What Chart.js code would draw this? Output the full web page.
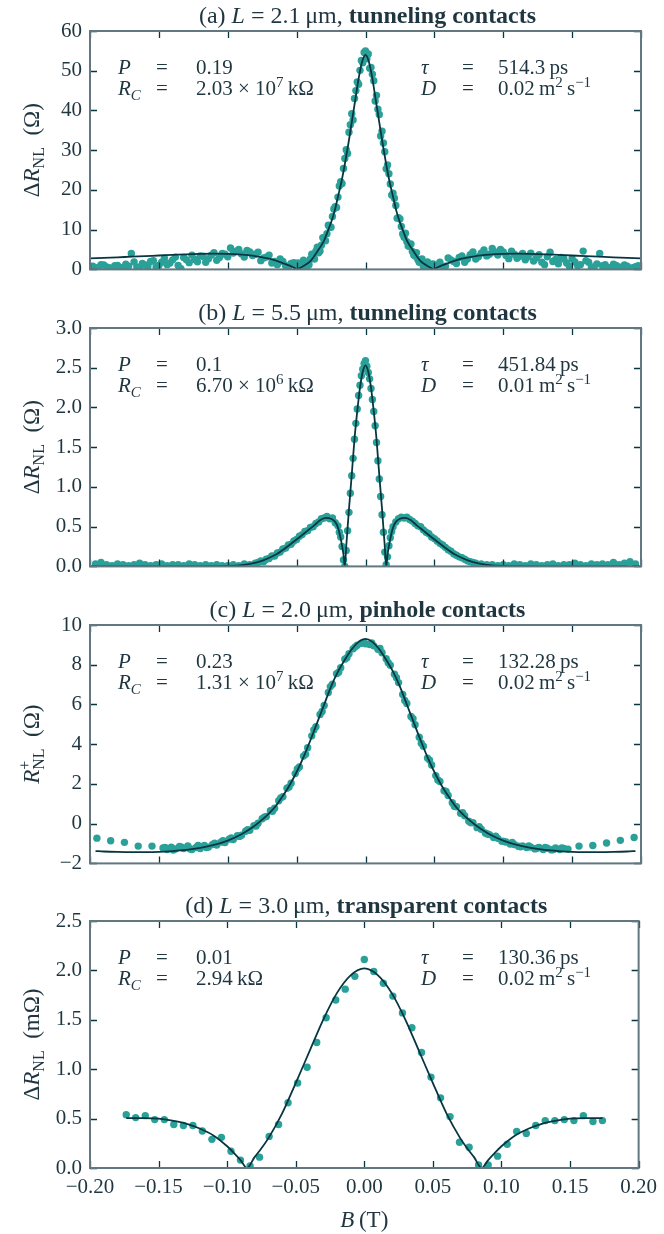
<!DOCTYPE html>
<html>
<head>
<meta charset="utf-8">
<script src="https://cdn.jsdelivr.net/npm/chart.js@4.4.0/dist/chart.umd.min.js"></script>
<style>
  body { margin: 0; background: #fff; width: 664px; height: 1234px; position: relative; overflow: hidden; }
  canvas { position: absolute; left: 0; }
</style>
</head>
<body>
<canvas id="panelA" width="664" height="290" style="top:0px"></canvas>
<canvas id="panelB" width="664" height="290" style="top:297px"></canvas>
<canvas id="panelC" width="664" height="290" style="top:594px"></canvas>
<canvas id="panelD" width="664" height="344" style="top:890px"></canvas>
<script>
// shared tick labels
const xTicks = [-0.2, -0.15, -0.1, -0.05, 0, 0.05, 0.1, 0.15, 0.2];
const aTicks = [0, 10, 20, 30, 40, 50, 60];
const bTicks = [0, 0.5, 1, 1.5, 2, 2.5, 3];
const cTicks = [-2, 0, 2, 4, 6, 8, 10];
const dTicks = [0, 0.5, 1, 1.5, 2, 2.5];

// (a) L = 2.1 um, tunneling -- first sweep
const aB = [
  -0.198,-0.194,-0.190,-0.186,-0.182,-0.178,-0.174,-0.170,-0.166,-0.162,
  -0.158,-0.154,-0.150,-0.146,-0.142,-0.138,-0.134,-0.130,-0.126,-0.122,
  -0.118,-0.114,-0.110,-0.106,-0.102,-0.098,-0.094,-0.090,-0.086,-0.082,
  -0.078,-0.074,-0.070,-0.066,-0.062,-0.058,-0.054,-0.050,
  -0.048,-0.046,-0.044,-0.042,-0.040,-0.038,-0.036,-0.034,-0.032,-0.030,
  -0.028,-0.026,-0.024,-0.022,-0.020,-0.018,-0.016,-0.014,-0.012,-0.010,
  -0.008,-0.006,-0.004,-0.002,0,0.002,0.004,0.006,0.008,0.010,
  0.012,0.014,0.016,0.018,0.020,0.022,0.024,0.026,0.028,0.030,
  0.032,0.034,0.036,0.038,0.040,0.042,0.044,0.046,0.048,
  0.050,0.054,0.058,0.062,0.066,0.070,0.074,0.078,0.082,0.086,
  0.090,0.094,0.098,0.102,0.106,0.110,0.114,0.118,0.122,0.126,
  0.130,0.134,0.138,0.142,0.146,0.150,0.154,0.158,0.162,0.166,
  0.170,0.174,0.178,0.182,0.186,0.190,0.194,0.198
];
const aR = [
  0.8,0.5,1.1,0.4,0.9,0.3,1.3,4.0,0.6,1.5,
  0.7,2.2,1.0,2.8,1.6,3.1,0.2,2.4,3.6,1.9,
  3.3,2.7,4.2,3.0,3.8,5.4,4.6,3.9,4.8,3.5,
  4.3,2.9,3.6,2.0,2.6,0.9,1.5,0.3,
  1.2,0.4,1.8,0.9,2.6,2.9,4.6,4.2,6.1,7.4,
  9.0,10.6,13.3,15.8,18.2,22.1,25.4,30.1,34.5,39.2,
  43.0,47.2,50.1,52.0,55.0,54.2,50.8,47.5,43.8,39.0,
  34.8,29.6,26.3,21.5,19.2,16.1,13.0,10.8,8.1,7.0,
  5.8,4.5,3.4,2.5,1.9,0.8,1.6,0.5,1.1,
  0.4,1.8,0.8,2.4,1.5,3.4,2.6,4.4,3.2,4.9,
  3.8,4.4,5.0,3.5,4.6,2.8,4.0,3.2,2.1,3.7,
  1.2,4.3,2.5,3.0,1.6,2.7,0.9,4.6,1.8,0.7,
  4.0,1.2,0.5,1.0,0.3,0.8,0.4,0.9
];
// (a) second sweep
const aB2 = [
  -0.196,-0.192,-0.188,-0.184,-0.180,-0.176,-0.172,-0.168,-0.164,-0.160,
  -0.156,-0.152,-0.148,-0.144,-0.140,-0.136,-0.132,-0.128,-0.124,-0.120,
  -0.116,-0.112,-0.108,-0.104,-0.100,-0.096,-0.092,-0.088,-0.084,-0.080,
  -0.076,-0.072,-0.068,-0.064,-0.060,-0.056,-0.052,
  -0.049,-0.047,-0.045,-0.043,-0.041,-0.039,-0.037,-0.035,-0.033,-0.031,
  -0.029,-0.027,-0.025,-0.023,-0.021,-0.019,-0.017,-0.015,-0.013,-0.011,
  -0.009,-0.007,-0.005,-0.003,-0.001,0.001,0.003,0.005,0.007,0.009,
  0.011,0.013,0.015,0.017,0.019,0.021,0.023,0.025,0.027,0.029,
  0.031,0.033,0.035,0.037,0.039,0.041,0.043,0.045,0.047,0.049,
  0.052,0.056,0.060,0.064,0.068,0.072,0.076,0.080,0.084,0.088,
  0.092,0.096,0.100,0.104,0.108,0.112,0.116,0.120,0.124,0.128,
  0.132,0.136,0.140,0.144,0.148,0.152,0.156,0.160,0.164,0.168,
  0.172,0.176,0.180,0.184,0.188,0.192,0.196
];
const aR2 = [
  0.3,1.2,0.6,0.2,1.0,0.5,0.8,1.9,0.4,1.1,
  2.0,0.6,1.8,1.2,2.4,1.0,3.0,1.7,2.5,3.4,
  1.8,3.6,2.3,4.0,3.2,4.1,5.0,3.1,4.4,3.8,
  2.2,3.1,1.6,1.2,2.0,0.5,1.7,
  1.6,0.2,2.3,0.6,1.2,3.8,2.6,5.6,4.6,8.0,
  7.2,11.1,10.6,15.2,15.6,21.0,21.6,27.9,29.2,36.4,
  37.6,45.0,46.6,52.6,54.6,53.0,50.6,49.1,42.4,40.3,
  33.6,31.8,25.3,24.1,18.7,17.9,12.9,12.7,8.9,9.1,
  5.9,6.4,3.6,4.2,1.8,2.6,0.5,1.9,0.3,1.4,
  1.1,0.6,2.9,2.0,3.0,1.8,3.7,2.6,4.1,3.4,
  5.3,3.6,4.4,2.7,3.8,3.3,2.4,4.1,2.9,1.8,
  3.2,2.0,1.4,2.6,0.8,1.9,1.2,2.2,0.5,1.4,
  0.9,0.3,1.3,0.6,1.1,0.2,0.7
];
const aFitB = [
  -0.2,-0.19,-0.18,-0.17,-0.16,-0.15,-0.14,-0.13,-0.12,-0.11,-0.1,-0.09,-0.08,-0.07,-0.065,-0.06,-0.055,-0.052,-0.0495,
  -0.0475,-0.045,-0.0425,-0.04,-0.0375,-0.035,-0.0325,-0.03,-0.0275,-0.025,-0.0225,-0.02,-0.0175,-0.015,-0.0125,-0.01,-0.0075,-0.005,-0.0025,
  0,
  0.0025,0.005,0.0075,0.01,0.0125,0.015,0.0175,0.02,0.0225,0.025,0.0275,0.03,0.0325,0.035,0.0375,0.04,0.0425,0.045,0.0475,
  0.0495,0.052,0.055,0.06,0.065,0.07,0.08,0.09,0.1,0.11,0.12,0.13,0.14,0.15,0.16,0.17,0.18,0.19,0.2
];
const aFitR = [
  2.75,2.9,3.05,3.2,3.35,3.5,3.65,3.8,3.9,3.95,3.9,3.7,3.35,2.7,2.2,1.6,0.95,0.45,0,
  0.38,0.85,1.4,2.1,3.2,4.5,5.8,7.3,9.5,11.8,14.6,18.3,22,26.5,31.5,37,42.5,48,52.2,
  54,
  52.2,48,42.5,37,31.5,26.5,22,18.3,14.6,11.8,9.5,7.3,5.8,4.5,3.2,2.1,1.4,0.85,0.38,
  0,0.45,0.95,1.6,2.2,2.7,3.35,3.7,3.9,3.95,3.9,3.8,3.65,3.5,3.35,3.2,3.05,2.9,2.75
];

// (b) L = 5.5 um, tunneling
const bB = [
  -0.196,-0.192,-0.188,-0.184,-0.180,-0.176,-0.172,-0.168,-0.164,-0.160,
  -0.156,-0.152,-0.148,-0.144,-0.140,-0.136,-0.132,-0.128,-0.124,-0.120,
  -0.116,-0.112,-0.108,-0.104,
  -0.100,-0.096,-0.092,-0.088,-0.084,-0.080,-0.078,-0.076,-0.074,-0.072,
  -0.070,-0.068,-0.066,-0.064,-0.062,-0.060,-0.058,-0.056,-0.054,-0.052,
  -0.050,-0.048,-0.046,-0.044,-0.042,-0.040,-0.038,-0.036,-0.034,-0.032,
  -0.030,-0.028,-0.026,-0.024,-0.022,-0.020,-0.019,-0.018,-0.017,
  -0.016,-0.015,-0.014,-0.013,-0.012,-0.011,-0.010,-0.009,-0.008,-0.007,
  -0.006,-0.005,-0.004,-0.003,-0.002,-0.001,0,0.001,0.002,0.003,
  0.004,0.005,0.006,0.007,0.008,0.009,0.010,0.011,0.012,0.013,
  0.014,0.015,0.016,
  0.017,0.018,0.019,0.020,0.022,0.024,0.026,0.028,0.030,0.032,
  0.034,0.036,0.038,0.040,0.042,0.044,0.046,0.048,0.050,0.052,
  0.054,0.056,0.058,0.060,0.062,0.064,0.066,0.068,0.070,0.072,
  0.074,0.076,0.078,0.080,0.084,0.088,0.092,0.096,0.100,
  0.104,0.108,0.112,0.116,0.120,0.124,0.128,0.132,0.136,0.140,
  0.144,0.148,0.152,0.156,0.160,0.164,0.168,0.172,0.176,0.180,
  0.184,0.188,0.192,0.196
];
const bR = [
  0.03,0.05,0.02,0.01,0.03,0.02,0.01,0.02,0.04,0.02,
  0.01,0.02,0.03,0.01,0.02,0.02,0.01,0.03,0.02,0.01,
  0.02,0.01,0.02,0.01,
  0.01,0.02,0.01,0.03,0.02,0.04,0.05,0.07,0.06,0.09,
  0.1,0.13,0.13,0.17,0.18,0.22,0.23,0.27,0.28,0.32,
  0.34,0.38,0.4,0.44,0.45,0.49,0.5,0.54,0.56,0.6,
  0.61,0.63,0.6,0.61,0.55,0.51,0.43,0.37,0.25,
  0.08,0.0,0.2,0.45,0.68,0.92,1.14,1.36,1.6,1.8,
  1.98,2.15,2.28,2.4,2.48,2.55,2.59,2.52,2.44,2.36,
  2.24,2.1,1.95,1.77,1.56,1.33,1.1,0.88,0.65,0.43,
  0.18,0.02,0.12,
  0.26,0.36,0.44,0.5,0.56,0.6,0.62,0.61,0.62,0.59,
  0.57,0.54,0.51,0.5,0.46,0.43,0.41,0.37,0.35,0.32,
  0.29,0.27,0.24,0.21,0.19,0.16,0.14,0.12,0.11,0.09,
  0.07,0.06,0.05,0.04,0.03,0.02,0.02,0.01,0.02,
  0.01,0.03,0.02,0.01,0.03,0.02,0.01,0.02,0.03,0.01,
  0.02,0.02,0.04,0.02,0.01,0.03,0.02,0.03,0.02,0.05,
  0.02,0.04,0.06,0.03
];
const bFitB = [
  -0.2,-0.15,-0.12,-0.1,-0.09,-0.083,-0.077,-0.071,-0.065,-0.059,-0.053,-0.047,-0.042,-0.037,-0.033,
  -0.029,-0.025,-0.022,-0.02,-0.018,-0.016,-0.015,-0.014,-0.012,-0.01,-0.008,-0.006,-0.004,-0.002,
  0,
  0.002,0.004,0.006,0.008,0.01,0.012,0.014,0.015,0.016,0.018,0.02,0.022,0.025,0.029,
  0.033,0.037,0.042,0.047,0.053,0.059,0.065,0.071,0.077,0.083,0.09,0.1,0.12,0.15,0.2
];
const bFitR = [
  0,0,0,0.005,0.015,0.035,0.06,0.1,0.15,0.22,0.3,0.38,0.45,0.52,0.58,
  0.61,0.6,0.56,0.49,0.35,0.15,0,0.25,0.72,1.15,1.6,1.95,2.25,2.45,
  2.53,
  2.45,2.25,1.95,1.6,1.15,0.72,0.25,0,0.15,0.35,0.49,0.56,0.6,0.61,
  0.58,0.52,0.45,0.38,0.3,0.22,0.15,0.1,0.06,0.035,0.015,0.005,0,0,0
];

// (c) L = 2.0 um, pinhole -- first sweep
const cB = [
  -0.195,-0.185,-0.175,-0.165,-0.155,
  -0.147,-0.144,-0.141,-0.138,-0.135,-0.132,-0.129,-0.126,-0.123,-0.120,
  -0.117,-0.114,-0.111,-0.108,-0.105,-0.102,-0.099,-0.096,-0.093,-0.090,
  -0.087,-0.084,-0.081,-0.078,-0.075,-0.072,-0.069,-0.066,-0.063,-0.060,
  -0.057,-0.054,-0.051,-0.048,-0.045,-0.042,-0.039,-0.036,-0.033,-0.030,
  -0.027,-0.024,-0.021,-0.018,-0.015,-0.012,-0.009,-0.006,-0.003,0,
  0.003,0.006,0.009,0.012,0.015,0.018,0.021,0.024,0.027,0.030,
  0.033,0.036,0.039,0.042,0.045,0.048,0.051,0.054,0.057,0.060,
  0.063,0.066,0.069,0.072,0.075,0.078,0.081,0.084,0.087,0.090,
  0.093,0.096,0.099,0.102,0.105,0.108,0.111,0.114,0.117,0.120,
  0.123,0.126,0.129,0.132,0.135,0.138,0.141,0.144,0.147,
  0.155,0.165,0.175,0.185,0.195
];
const cR = [
  -0.73,-0.86,-0.94,-1.13,-1.13,
  -1.22,-1.3,-1.18,-1.27,-1.15,-1.25,-1.12,-1.3,-1.2,-1.25,
  -1.1,-1.18,-1.05,-1.08,-0.93,-0.95,-0.78,-0.8,-0.6,-0.58,
  -0.38,-0.33,-0.1,0.02,0.25,0.36,0.65,0.78,1.15,1.36,
  1.78,2.04,2.52,2.85,3.4,3.82,4.42,4.88,5.5,5.95,
  6.6,7.02,7.55,7.85,8.28,8.55,8.8,8.98,9.08,9.05,
  9.02,8.95,8.78,8.6,8.3,7.98,7.52,7.1,6.5,6.05,
  5.4,4.98,4.35,3.9,3.3,2.95,2.42,2.12,1.66,1.42,
  1.05,0.85,0.52,0.4,0.12,0.05,-0.2,-0.28,-0.47,-0.55,
  -0.7,-0.74,-0.88,-0.92,-1.02,-1.05,-1.14,-1.12,-1.2,-1.18,
  -1.27,-1.2,-1.3,-1.24,-1.32,-1.22,-1.3,-1.25,-1.28,
  -1.13,-1.1,-0.97,-0.84,-0.7
];
// (c) second sweep
const cB2 = [
  -0.1455,-0.1395,-0.1335,-0.1275,-0.1215,-0.1155,-0.1095,-0.1035,-0.0975,-0.0915,
  -0.0855,-0.0795,-0.0735,-0.0675,-0.0615,-0.0555,-0.0495,-0.0435,-0.0375,-0.0315,
  -0.0255,-0.0195,-0.0135,-0.0075,-0.0015,0.0045,0.0105,0.0165,0.0225,0.0285,
  0.0345,0.0405,0.0465,0.0525,0.0585,0.0645,0.0705,0.0765,0.0825,0.0885,
  0.0945,0.1005,0.1065,0.1125,0.1185,0.1245,0.1305,0.1365,0.1425
];
const cR2 = [
  -1.2,-1.33,-1.18,-1.26,-1.1,-1.2,-0.98,-0.86,-0.72,-0.64,
  -0.3,-0.12,0.33,0.62,1.3,1.84,2.75,3.5,4.72,5.65,
  6.9,7.62,8.35,8.9,9.12,9.1,8.82,8.1,7.35,6.2,
  5.28,4.05,3.2,2.2,1.62,0.88,0.55,0.05,-0.15,-0.52,
  -0.63,-0.9,-0.95,-1.16,-1.12,-1.24,-1.2,-1.3,-1.22
];
const cFitB = [
  -0.196,-0.19,-0.18,-0.17,-0.16,-0.15,-0.14,-0.13,-0.12,-0.11,-0.1,-0.09,-0.085,-0.08,-0.075,
  -0.07,-0.065,-0.06,-0.055,-0.05,-0.045,-0.04,-0.035,-0.03,-0.025,-0.02,-0.015,-0.01,-0.005,
  0,
  0.005,0.01,0.015,0.02,0.025,0.03,0.035,0.04,0.045,0.05,0.055,0.06,0.065,0.07,
  0.075,0.08,0.085,0.09,0.1,0.11,0.12,0.13,0.14,0.15,0.16,0.17,0.18,0.19,0.196
];
const cFitR = [
  -1.38,-1.4,-1.42,-1.43,-1.43,-1.42,-1.38,-1.32,-1.22,-1.07,-0.85,-0.53,-0.32,-0.08,0.2,
  0.52,0.9,1.4,1.95,2.6,3.35,4.2,5.1,6.0,6.9,7.65,8.25,8.78,9.15,
  9.3,
  9.15,8.78,8.25,7.65,6.9,6.0,5.1,4.2,3.35,2.6,1.95,1.4,0.9,0.52,
  0.2,-0.08,-0.32,-0.53,-0.85,-1.07,-1.22,-1.32,-1.38,-1.42,-1.43,-1.43,-1.42,-1.4,-1.38
];

// (d) L = 3.0 um, transparent
const dB = [
  -0.1736,-0.1667,-0.1597,-0.1528,-0.1458,-0.1389,-0.1319,-0.125,-0.1181,-0.1111,
  -0.1042,-0.0972,-0.0903,-0.0833,-0.0764,-0.0694,-0.0625,-0.0556,-0.0486,-0.0417,
  -0.0347,-0.0278,-0.0208,-0.0139,-0.0069,0,0.0069,0.0139,0.0208,0.0278,
  0.0347,0.0417,0.0486,0.0556,0.0625,0.0694,0.0764,0.0833,0.0903,0.0972,
  0.1042,0.1111,0.1181,0.125,0.1319,0.1389,0.1458,0.1528,0.1597,0.1667,0.1736
];
const dR = [
  0.54,0.51,0.53,0.49,0.49,0.44,0.43,0.43,0.375,0.29,
  0.31,0.17,0.08,0.02,0.11,0.32,0.44,0.66,0.86,1.02,
  1.27,1.52,1.7,1.81,1.94,2.11,1.99,1.87,1.74,1.57,
  1.42,1.17,0.92,0.71,0.52,0.26,0.21,0.03,0.03,0.12,
  0.24,0.37,0.35,0.43,0.48,0.48,0.49,0.48,0.53,0.47,0.48
];
const dFitB = [
  -0.1736,-0.16,-0.15,-0.14,-0.13,-0.12,-0.11,-0.1,-0.095,-0.09,-0.0855,-0.08,-0.075,-0.07,-0.06,
  -0.05,-0.04,-0.03,-0.02,-0.01,0,0.01,0.02,0.03,0.04,0.05,
  0.06,0.07,0.075,0.08,0.0855,0.09,0.095,0.1,0.11,0.12,0.13,0.14,0.15,0.16,0.1736
];
const dFitR = [
  0.505,0.505,0.5,0.48,0.45,0.4,0.33,0.22,0.15,0.075,0,0.11,0.2,0.3,0.55,
  0.86,1.18,1.5,1.77,1.95,2.02,1.95,1.77,1.5,1.18,0.86,
  0.55,0.3,0.2,0.11,0,0.075,0.15,0.22,0.33,0.4,0.45,0.48,0.5,0.505,0.505
];

const FONT = '"Liberation Serif", "DejaVu Serif", serif';
const TEXT = '#1f3640';
const TEAL = '#2aa198';
const DARK = '#073642';
const FRAME = '#627780';

function fontFor(style, size) {
  const small = style === 'sub' || style === 'subi' || style === 'sup' || style === 'supk';
  const px = small ? Math.round(size * 0.7) : size;
  const italic = (style === 'i' || style === 'subi') ? 'italic ' : '';
  const bold = style === 'b' ? 'bold ' : '';
  return italic + bold + px + 'px ' + FONT;
}

function shiftFor(style, size) {
  if (style === 'sub' || style === 'subi') return size * 0.22;
  if (style === 'sup' || style === 'supk') return -size * 0.38;
  return 0;
}

function runsWidth(ctx, runs, size) {
  let w = 0;
  runs.forEach(([t, s]) => {
    ctx.font = fontFor(s || '', size);
    if (s !== 'supk') w += ctx.measureText(t).width;
  });
  return w;
}

// text pieces with italic / sub / superscript
function drawRuns(ctx, runs, x, y, size, align) {
  let cx = align === 'center' ? x - runsWidth(ctx, runs, size) / 2 : x;
  ctx.textAlign = 'left';
  ctx.textBaseline = 'alphabetic';
  ctx.fillStyle = TEXT;
  runs.forEach(([t, s]) => {
    s = s || '';
    ctx.font = fontFor(s, size);
    ctx.fillText(t, cx, y + shiftFor(s, size));
    if (s !== 'supk') cx += ctx.measureText(t).width;
  });
}

function fmt(v, d) {
  return v.toFixed(d).replace('-', '\u2212');
}

const EQ = ' = ';
const dUnit = [['0.02\u2009m', ''], ['2', 'sup'], ['\u2009s', ''], ['\u22121', 'sup']];
const rcSym = [['R', 'i'], ['C', 'subi']];
const times = ' \u00d7 10';

const panels = [
  {
    id: 'panelA', xs: aB.concat(aB2), ys: aR.concat(aR2), fx: aFitB, fy: aFitR,
    yMin: 0, yMax: 60, yTicks: aTicks, digits: 0, bottomAxis: false,
    title: [['(a) ', ''], ['L', 'i'], [EQ + '2.1\u2009\u03bcm, ', ''], ['tunneling contacts', 'b']],
    ylabel: [['\u0394', ''], ['R', 'i'], ['NL', 'sub'], ['\u2002(\u03a9)', '']],
    notes: [
      [[['P', 'i']], [['0.19', '']], [['\u03c4', 'i']], [['514.3\u2009ps', '']]],
      [rcSym, [['2.03' + times, ''], ['7', 'sup'], ['\u2009k\u03a9', '']], [['D', 'i']], dUnit]
    ]
  },
  {
    id: 'panelB', xs: bB, ys: bR, fx: bFitB, fy: bFitR,
    yMin: 0, yMax: 3, yTicks: bTicks, digits: 1, bottomAxis: false,
    title: [['(b) ', ''], ['L', 'i'], [EQ + '5.5\u2009\u03bcm, ', ''], ['tunneling contacts', 'b']],
    ylabel: [['\u0394', ''], ['R', 'i'], ['NL', 'sub'], ['\u2002(\u03a9)', '']],
    notes: [
      [[['P', 'i']], [['0.1', '']], [['\u03c4', 'i']], [['451.84\u2009ps', '']]],
      [rcSym, [['6.70' + times, ''], ['6', 'sup'], ['\u2009k\u03a9', '']], [['D', 'i']],
        [['0.01\u2009m', ''], ['2', 'sup'], ['\u2009s', ''], ['\u22121', 'sup']]]
    ]
  },
  {
    id: 'panelC', xs: cB.concat(cB2), ys: cR.concat(cR2), fx: cFitB, fy: cFitR,
    yMin: -2, yMax: 10, yTicks: cTicks, digits: 0, bottomAxis: false,
    title: [['(c) ', ''], ['L', 'i'], [EQ + '2.0\u2009\u03bcm, ', ''], ['pinhole contacts', 'b']],
    ylabel: [['R', 'i'], ['+', 'supk'], ['NL', 'sub'], ['\u2002(\u03a9)', '']],
    notes: [
      [[['P', 'i']], [['0.23', '']], [['\u03c4', 'i']], [['132.28\u2009ps', '']]],
      [rcSym, [['1.31' + times, ''], ['7', 'sup'], ['\u2009k\u03a9', '']], [['D', 'i']], dUnit]
    ]
  },
  {
    id: 'panelD', xs: dB, ys: dR, fx: dFitB, fy: dFitR,
    yMin: 0, yMax: 2.5, yTicks: dTicks, digits: 1, bottomAxis: true,
    title: [['(d) ', ''], ['L', 'i'], [EQ + '3.0\u2009\u03bcm, ', ''], ['transparent contacts', 'b']],
    ylabel: [['\u0394', ''], ['R', 'i'], ['NL', 'sub'], ['\u2002(m\u03a9)', '']],
    notes: [
      [[['P', 'i']], [['0.01', '']], [['\u03c4', 'i']], [['130.36\u2009ps', '']]],
      [rcSym, [['2.94\u2009k\u03a9', '']], [['D', 'i']], dUnit]
    ]
  }
];

function makePanel(p) {
  const pts = p.xs.map((x, i) => ({ x: x, y: p.ys[i] }));
  const fit = p.fx.map((x, i) => ({ x: x, y: p.fy[i] }));
  const tickFont = { family: FONT, size: 21 };

  // frame, inward ticks and all the math-style text
  const decor = {
    id: 'decor',
    afterDraw(chart) {
      const ctx = chart.ctx;
      const a = chart.chartArea;
      const xs = chart.scales.x, ys = chart.scales.y;
      ctx.save();
      ctx.strokeStyle = DARK;
      ctx.lineWidth = 1.3;
      ctx.beginPath();
      xTicks.forEach(v => {
        const px = Math.round(xs.getPixelForValue(v)) + 0.5;
        ctx.moveTo(px, a.bottom); ctx.lineTo(px, a.bottom - 7);
        ctx.moveTo(px, a.top); ctx.lineTo(px, a.top + 7);
      });
      p.yTicks.forEach(v => {
        const py = Math.round(ys.getPixelForValue(v)) + 0.5;
        ctx.moveTo(a.left, py); ctx.lineTo(a.left + 7, py);
        ctx.moveTo(a.right, py); ctx.lineTo(a.right - 7, py);
      });
      ctx.stroke();
      ctx.strokeStyle = FRAME;
      ctx.lineWidth = 2;
      ctx.strokeRect(a.left, a.top, a.right - a.left, a.bottom - a.top);

      const mid = (a.left + a.right) / 2;
      drawRuns(ctx, p.title, mid + 2, a.top - 8, 24, 'center');

      ctx.save();
      ctx.translate(39, (a.top + a.bottom) / 2);
      ctx.rotate(-Math.PI / 2);
      drawRuns(ctx, p.ylabel, 0, 0, 23, 'center');
      ctx.restore();

      const rows = [a.top + 43, a.top + 64];
      p.notes.forEach((row, r) => {
        const y = rows[r];
        drawRuns(ctx, row[0], 118, y, 21);
        drawRuns(ctx, [['=', '']], 162, y, 21, 'center');
        drawRuns(ctx, row[1], 196, y, 21);
        drawRuns(ctx, row[2], 421, y, 21);
        drawRuns(ctx, [['=', '']], 468, y, 21, 'center');
        drawRuns(ctx, row[3], 498, y, 21);
      });

      if (p.bottomAxis) {
        drawRuns(ctx, [['B', 'i'], ['\u2009(T)', '']], mid, a.bottom + 59, 23, 'center');
      }
      ctx.restore();
    }
  };

  new Chart(document.getElementById(p.id), {
    type: 'scatter',
    data: {
      datasets: [
        {
          data: fit,
          showLine: true,
          borderColor: DARK,
          borderWidth: 1.8,
          pointRadius: 0,
          cubicInterpolationMode: 'monotone',
          fill: false,
          clip: 0,
          order: 0
        },
        {
          data: pts,
          pointRadius: 3.7,
          pointBackgroundColor: TEAL,
          pointBorderWidth: 0,
          clip: 0,
          order: 1
        }
      ]
    },
    options: {
      responsive: false,
      animation: false,
      layout: { padding: { top: 31, right: 23, left: 0, bottom: p.bottomAxis ? 0 : 12 } },
      plugins: { legend: { display: false }, tooltip: { enabled: false } },
      scales: {
        x: {
          type: 'linear',
          min: -0.2,
          max: 0.2,
          afterBuildTicks: s => { s.ticks = xTicks.map(v => ({ value: v })); },
          afterFit: s => { s.height = p.bottomAxis ? 66 : 0; },
          grid: { display: false, drawTicks: false },
          border: { display: false },
          ticks: {
            display: p.bottomAxis,
            padding: 7,
            autoSkip: false,
            maxRotation: 0,
            color: TEXT,
            font: tickFont,
            callback: v => fmt(v, 2)
          }
        },
        y: {
          type: 'linear',
          min: p.yMin,
          max: p.yMax,
          afterBuildTicks: s => { s.ticks = p.yTicks.map(v => ({ value: v })); },
          afterFit: s => { s.width = 90; },
          grid: { display: false, drawTicks: false },
          border: { display: false },
          ticks: {
            padding: 8,
            color: TEXT,
            font: tickFont,
            callback: v => fmt(v, p.digits)
          }
        }
      }
    },
    plugins: [decor]
  });
}

panels.forEach(makePanel);
</script>
</body>
</html>
